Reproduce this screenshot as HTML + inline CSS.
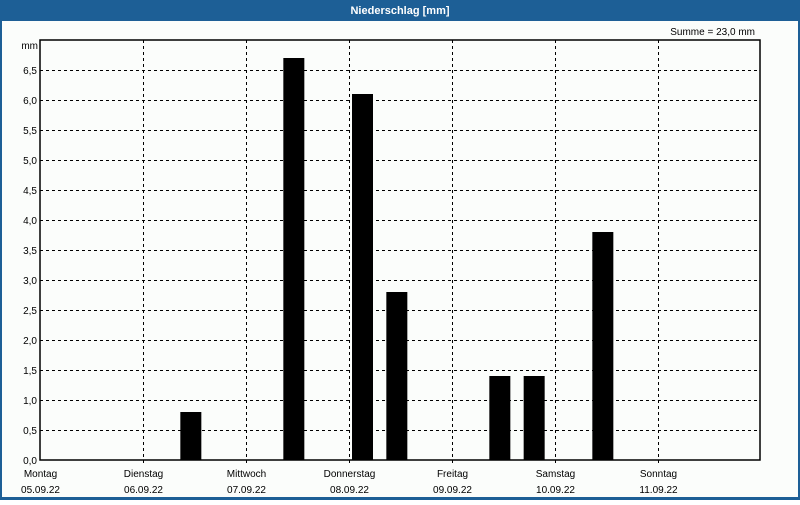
<!DOCTYPE html>
<html><head><meta charset="utf-8"><style>
body{margin:0;width:800px;height:500px;overflow:hidden;background:#fff;font-family:"Liberation Sans",sans-serif}
</style></head><body>
<svg width="800" height="500" xmlns="http://www.w3.org/2000/svg" font-family="Liberation Sans, sans-serif">
<rect x="0" y="0" width="800" height="500" fill="#1d5f96"/>
<rect x="2" y="21" width="796" height="476" fill="#fbfdfb"/>
<text x="400" y="14" fill="#fff" font-size="11" font-weight="bold" text-anchor="middle">Niederschlag [mm]</text>
<text x="755" y="35" fill="#000" font-size="10" text-anchor="end">Summe = 23,0 mm</text>
<text x="38" y="49" fill="#000" font-size="10" text-anchor="end">mm</text>
<g id="grid"></g><g id="bars"></g><g id="labels"></g>
<rect x="40" y="40" width="720" height="420" fill="none" stroke="#000" stroke-width="1.5"/>
</svg>
<script>
const yTicks=[0,0.5,1,1.5,2,2.5,3,3.5,4,4.5,5,5.5,6,6.5];
const dayNames=["Montag","Dienstag","Mittwoch","Donnerstag","Freitag","Samstag","Sonntag"];
const dayDates=["05.09.22","06.09.22","07.09.22","08.09.22","09.09.22","10.09.22","11.09.22"];
const slotValues=[0,0,0, 0,0.8,0, 0,6.7,0, 6.1,2.8,0, 0,1.4,1.4, 0,3.8,0, 0,0,0];
const NS="http://www.w3.org/2000/svg";
const x0=40,dayW=103,y0=460,yMax=7,plotH=420;
const y=v=>y0-v/yMax*plotH;
const x=slot=>x0+slot*dayW/3;
function mk(tag,attrs,parent){const e=document.createElementNS(NS,tag);for(const k in attrs)e.setAttribute(k,attrs[k]);document.getElementById(parent).appendChild(e);return e;}
yTicks.forEach(t=>{
 if(t>0){const l=mk("line",{x1:40,x2:760,y1:y(t)+0.5,y2:y(t)+0.5,stroke:"#000","stroke-dasharray":"3,3"},"grid");
 
 }
 const tx=mk("text",{x:37,y:y(t)+4,"font-size":10,"text-anchor":"end",fill:"#000"},"labels");
 tx.textContent=t.toFixed(1).replace(".",",");
 
 
});
dayNames.forEach((d,i)=>{
 const xx=x0+i*dayW+0.5;
 if(i>0){const l=mk("line",{x1:xx,x2:xx,y1:40,y2:466,stroke:"#000","stroke-dasharray":"3,3"},"grid");
 
 }
 const t1=mk("text",{x:xx,y:477,"font-size":10,"text-anchor":"middle",fill:"#000"},"labels");
 t1.textContent=d;
 
 
 const t2=mk("text",{x:xx,y:493,"font-size":10,"text-anchor":"middle",fill:"#000"},"labels");
 t2.textContent=dayDates[i];
 
 
});
slotValues.forEach((v,i)=>{
 if(v<=0)return;
 const b=mk("rect",{x:x(i)+3,y:y(v),width:21,height:y0-y(v),fill:"#000"},"bars");
 
 
});
</script>
</body></html>
